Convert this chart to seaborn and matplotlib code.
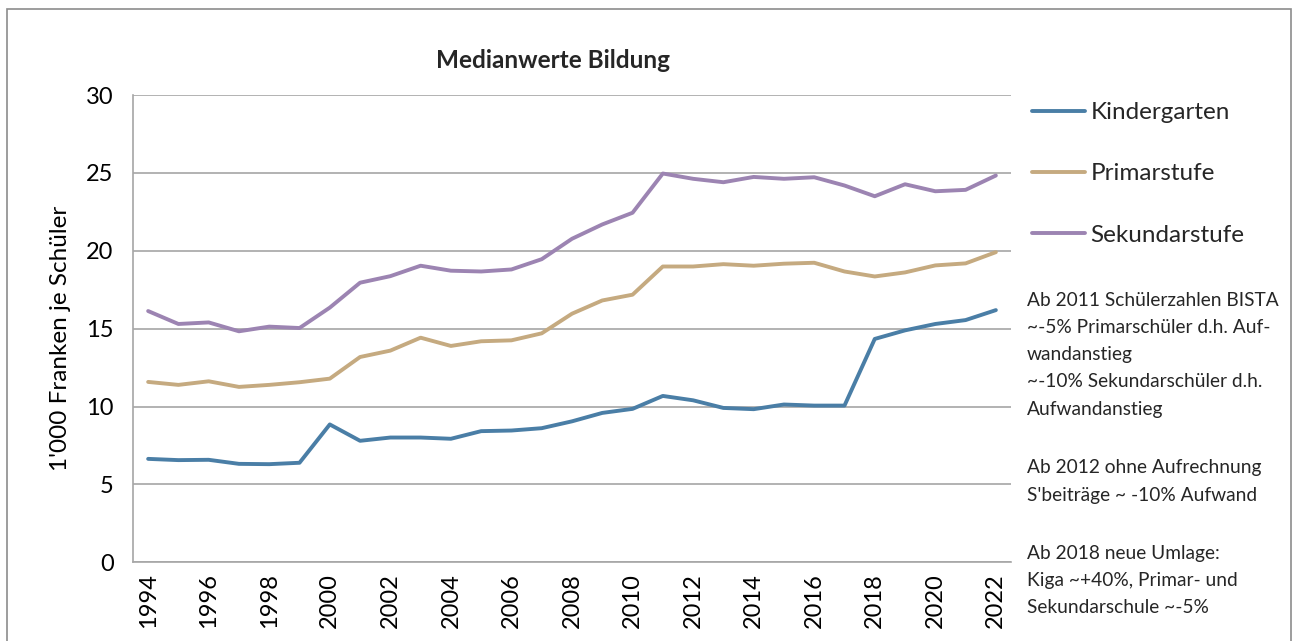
import numpy as np
import pandas as pd
import matplotlib
matplotlib.use("Agg")
import matplotlib.pyplot as plt
from matplotlib.patches import Rectangle
from matplotlib.ticker import MultipleLocator, FixedLocator
from matplotlib.lines import Line2D
import seaborn as sns

years = list(range(1994, 2023))
kindergarten = [6.64, 6.56, 6.58, 6.32, 6.30, 6.39, 8.85, 7.80, 8.01, 8.01, 7.93, 8.42, 8.46, 8.61,
                9.05, 9.59, 9.85, 10.68, 10.40, 9.91, 9.83, 10.13, 10.06, 10.06, 14.34, 14.89, 15.30, 15.55, 16.19]
primarstufe = [11.58, 11.39, 11.62, 11.26, 11.39, 11.56, 11.79, 13.18, 13.59, 14.42, 13.89, 14.19, 14.25, 14.70,
               15.96, 16.81, 17.18, 18.99, 18.99, 19.14, 19.04, 19.17, 19.23, 18.67, 18.35, 18.61, 19.06, 19.19, 19.91]
sekundarstufe = [16.13, 15.30, 15.40, 14.83, 15.13, 15.04, 16.35, 17.95, 18.37, 19.04, 18.72, 18.67, 18.80, 19.46,
                 20.77, 21.69, 22.44, 24.96, 24.62, 24.40, 24.74, 24.62, 24.72, 24.19, 23.50, 24.27, 23.82, 23.91, 24.83]
series_names = ["Kindergarten", "Primarstufe", "Sekundarstufe"]
title = "Medianwerte Bildung"
ylabel = "1'000 Franken je Schüler"
notes = [
    ["Ab 2011 Schülerzahlen BISTA", "~-5% Primarschüler d.h. Auf-", "wandanstieg",
     "~-10% Sekundarschüler d.h.", "Aufwandanstieg"],
    ["Ab 2012 ohne Aufrechnung", "S'beiträge ~ -10% Aufwand"],
    ["Ab 2018 neue Umlage:", "Kiga ~+40%, Primar- und", "Sekundarschule ~-5%"],
]

df = pd.DataFrame({
    "Jahr": years * 3,
    "Wert": kindergarten + primarstufe + sekundarstufe,
    "Serie": [series_names[0]] * len(years) + [series_names[1]] * len(years) + [series_names[2]] * len(years),
})

sns.set_theme(style="white")
plt.rcParams["font.family"] = ["Lato", "DejaVu Sans"]

W, H = 1292, 641
fig = plt.figure(figsize=(W / 100, H / 100), dpi=100)
ax = fig.add_axes([133 / W, 1 - 562.3 / H, (1011 - 133) / W, (562.3 - 95) / H])

palette = {"Kindergarten": "#4a7ea6", "Primarstufe": "#c5aa80", "Sekundarstufe": "#9c84b2"}
lw = 2.8
sns.lineplot(data=df, x="Jahr", y="Wert", hue="Serie", palette=palette, linewidth=lw,
             ax=ax, legend=False, zorder=3)

grid_c = "#a6a6a6"
ax.set_xlim(1993.5, 2022.5)
ax.set_ylim(0, 30)
ax.yaxis.set_major_locator(MultipleLocator(5))
ax.grid(axis="y", color=grid_c, linewidth=1.2, zorder=0)
ax.grid(axis="x", visible=False)
for s in ["top", "right"]:
    ax.spines[s].set_visible(False)
for s in ["left", "bottom"]:
    ax.spines[s].set_color(grid_c)
    ax.spines[s].set_linewidth(1.2)

ax.xaxis.set_major_locator(FixedLocator(years[::2]))
ax.xaxis.set_minor_locator(FixedLocator([y - 0.5 for y in years] + [years[-1] + 0.5]))
ax.tick_params(axis="x", which="major", length=0, labelsize=17, rotation=90, pad=8, labelcolor="black")
ax.tick_params(axis="x", which="minor", length=7, width=1.2, color=grid_c, direction="out")
ax.tick_params(axis="y", which="major", length=8, width=1.2, color=grid_c, direction="out",
               labelsize=17, pad=6, labelcolor="black")
ax.set_xlabel("")
ax.set_ylabel(ylabel, fontsize=17.5, color="black")
ax.yaxis.set_label_coords((71 - 133) / (1011 - 133), 1 - (338 - 95) / (562.3 - 95))

fig.text(553 / W, 1 - 60 / H, title, ha="center", va="center", fontsize=17.5, fontweight="bold")

# legend
handles = [Line2D([0], [0], color=palette[n], linewidth=lw) for n in series_names]
leg = fig.legend(handles, series_names, loc="upper left", bbox_to_anchor=(1032 / W, 1 - 102 / H),
                 frameon=False, fontsize=17.5, handlelength=2.2, handletextpad=0.2, labelspacing=1.66,
                 borderaxespad=0, borderpad=0)

# notes
line_h = 27.3
ys = [300, 468, 553]
for block, y0 in zip(notes, ys):
    for i, t in enumerate(block):
        fig.text(1027 / W, 1 - (y0 + i * line_h) / H, t, ha="left", va="center", fontsize=13.8)

# chart border
fig.patches.append(Rectangle((7 / W, -0.05), (1291 - 7) / W, 1 - 9 / H + 0.05,
                             transform=fig.transFigure, fill=False, edgecolor="#8c8c8c", linewidth=1.2))

fig.savefig("out.png", dpi=100)
